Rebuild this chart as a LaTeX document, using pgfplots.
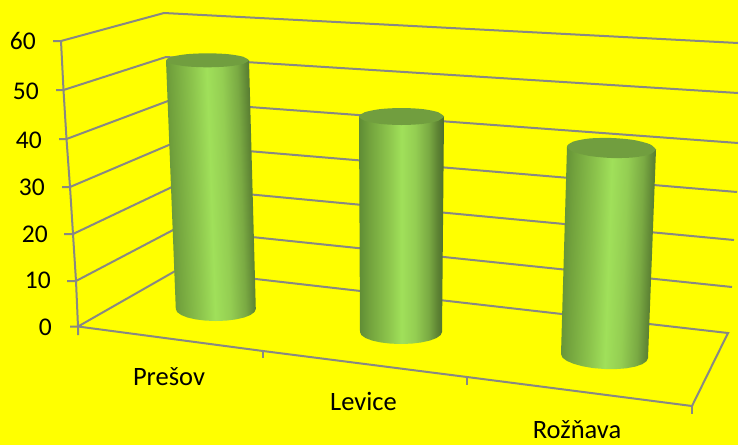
\documentclass[border=0pt]{standalone}
\usepackage{pgfplots}
\pgfplotsset{compat=1.18}
\usepackage{fontspec}
\setmainfont{Carlito}
\definecolor{bg}{RGB}{255,255,0}
\definecolor{gridc}{HTML}{888884}
\definecolor{topc}{HTML}{719E3F}
\definecolor{c1}{RGB}{95,140,53}
\definecolor{c2}{RGB}{114,162,61}
\definecolor{c3}{RGB}{140,196,76}
\definecolor{c4}{RGB}{160,224,90}
\definecolor{c5}{RGB}{148,206,82}
\definecolor{c6}{RGB}{122,170,67}
\definecolor{c7}{RGB}{94,132,52}
\definecolor{c8}{RGB}{76,108,44}
\pgfdeclarehorizontalshading{cylgreen}{100bp}{
  color(0bp)=(c1);
  color(25bp)=(c1);
  color(31bp)=(c2);
  color(42bp)=(c3);
  color(50bp)=(c4);
  color(58bp)=(c5);
  color(66bp)=(c6);
  color(71bp)=(c7);
  color(75bp)=(c8);
  color(100bp)=(c8)}
\tikzset{
  grid line/.style={color=gridc, line width=2pt},
  lab/.style={font=\fontsize{25.5}{30}\selectfont, text=black, inner sep=0pt},
  cat/.style={font=\fontsize{26.5}{30}\selectfont, text=black, inner sep=0pt, anchor=base},
}
\begin{document}
\begin{tikzpicture}
\begin{axis}[
    width=738pt, height=445pt,
    scale only axis,
    axis lines=none,
    xmin=0, xmax=738,
    ymin=0, ymax=445,
    y dir=reverse,
    clip=true,
    every axis plot/.append style={no marks},
]
\fill[bg] (axis cs:0,0) rectangle (axis cs:738,445);

% back wall and left wall, 60 down to 0, tick included
\addplot[grid line] coordinates {(53,41)(61,41)(164,13)(738,43)};
\addplot[grid line] coordinates {(56,90)(63.5,90)(166,57)(738,93)};
\addplot[grid line] coordinates {(59,139)(66.5,139)(168,101)(738,143)};
\addplot[grid line] coordinates {(62,187)(70,187)(170,144.5)(737,192)};
\addplot[grid line] coordinates {(64,234)(73,234)(172,187)(734,240)};
\addplot[grid line] coordinates {(67,281)(76,281)(175,229)(732,287)};
% floor
\addplot[grid line] coordinates {(70,326.5)(78,326.5)(177,270)(728,333)(692,406)(467,377)(263,351)(78,326.5)};
% upright axis and x ticks
\addplot[grid line] coordinates {(61,41)(63.5,90)(66.5,139)(70,187)(73,234)(76,281)(78,326.5)(78,335)};
\addplot[grid line] coordinates {(263,351)(263,358)};
\addplot[grid line] coordinates {(467,377)(467,385)};
\addplot[grid line] coordinates {(692,406)(692,414)};

% Presov
\addplot[draw=none, shade, shading=cylgreen, shading angle=2] coordinates {
  (166,60.3)(249,60.3)
  (255.8,309)(254.4,312.1)(250.4,315)(244.1,317.5)(235.8,319.4)(226.2,320.6)(215.8,321)
  (205.4,320.6)(195.8,319.4)(187.5,317.5)(181.2,315)(177.2,312.1)(175.8,309)(166,60.3)};
\addplot[draw=none, fill=topc, smooth] coordinates {
  (249,60.3)(243.4,56.8)(228.25,54.2)(207.5,53.3)(186.75,54.2)(171.6,56.8)(166,60.3)
  (171.6,63.8)(186.75,66.4)(207.5,67.3)(228.25,66.4)(243.4,63.8)(249,60.3)};

% Levice
\addplot[draw=none, shade, shading=cylgreen] coordinates {
  (359,116.5)(444,116.5)
  (442,332)(440.6,335.1)(436.5,338)(430,340.5)(421.5,342.4)(411.6,343.6)(401,344)
  (390.4,343.6)(380.5,342.4)(372,340.5)(365.5,338)(361.4,335.1)(360,332)(359,116.5)};
\addplot[draw=none, fill=topc, smooth] coordinates {
  (444,116.5)(438.3,112.25)(422.75,109.1)(401.5,108)(380.25,109.1)(364.7,112.25)(359,116.5)
  (364.7,120.75)(380.25,123.9)(401.5,125)(422.75,123.9)(438.3,120.75)(444,116.5)};

% Roznava
\addplot[draw=none, shade, shading=cylgreen, shading angle=-2] coordinates {
  (567,146.5)(656,149.5)
  (648,358)(646.5,361.2)(642.2,364.2)(635.3,366.6)(626.25,368.3)(615.8,369.1)(604.5,369)
  (593.2,368.1)(582.75,366.3)(573.7,363.8)(566.8,360.9)(562.5,357.6)(561,354)(567,146.5)};
\addplot[draw=none, fill=topc, smooth] coordinates {
  (656,149.5)(650,144.3)(633.75,140)(611.5,138)(589.25,138.5)(573,141.7)(567,146.5)
  (573,151.7)(589.25,155.9)(611.5,158)(633.75,157.4)(650,154.3)(656,149.5)};

\node[lab, anchor=east] at (axis cs:36,41) {60};
\node[lab, anchor=east] at (axis cs:39,91) {50};
\node[lab, anchor=east] at (axis cs:42,140) {40};
\node[lab, anchor=east] at (axis cs:45,187) {30};
\node[lab, anchor=east] at (axis cs:48,234) {20};
\node[lab, anchor=east] at (axis cs:51,280) {10};
\node[lab, anchor=east] at (axis cs:52,327) {0};
\node[cat] at (axis cs:169,385) {Prešov};
\node[cat] at (axis cs:363.5,410) {Levice};
\node[cat] at (axis cs:577,438) {Rožňava};
\end{axis}
\end{tikzpicture}
\end{document}
